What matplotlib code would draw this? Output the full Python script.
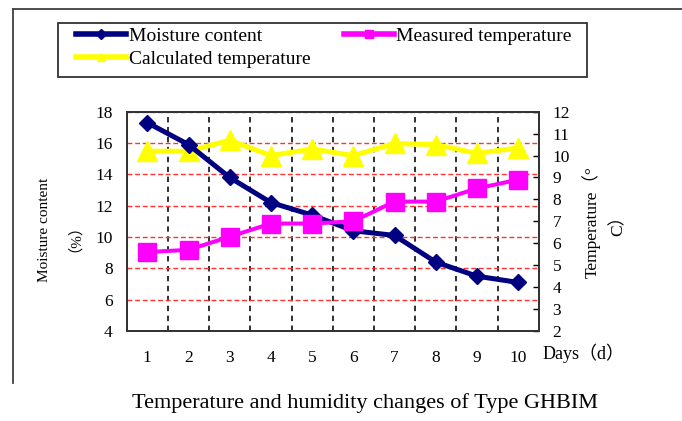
import numpy as np
import matplotlib
matplotlib.use("Agg")
import matplotlib.pyplot as plt
from matplotlib.lines import Line2D
from matplotlib.patches import Rectangle

# ---- data ----
days = np.arange(1, 11)
moisture = [17.3, 15.9, 13.8, 12.2, 11.4, 10.4, 10.1, 8.4, 7.5, 7.1]
measured_temp = [5.6, 5.7, 6.3, 6.9, 6.9, 7.0, 7.9, 7.9, 8.5, 8.9]
calc_temp = [10.2, 10.2, 10.7, 10.0, 10.3, 10.0, 10.55, 10.5, 10.1, 10.35]
left_ticks = np.arange(4, 19, 2)
right_ticks = np.arange(2, 13, 1)
labels = ["Moisture content", "Calculated temperature", "Measured temperature"]

plt.rcParams['font.family'] = ['Liberation Serif', 'Noto Sans CJK SC']

NAVY, MAG, YEL = '#000080', '#FF00FF', '#FFFF00'
EDGE = '#333333'

fig = plt.figure(figsize=(6.82, 4.21), dpi=100)
W, H = 682, 421
rect = [126.7 / W, 1 - 331 / H, (538.7 - 126.7) / W, (331 - 111.7) / H]

# base axes: left scale, grid, spines
ax = fig.add_axes(rect)
ax.set_xlim(0.5, 10.5); ax.set_ylim(4, 18)
ax.set_xticks(days)
ax.set_xticks(np.arange(1.5, 10, 1), minor=True)
ax.set_yticks(left_ticks)
ax.set_axisbelow(True)
ax.grid(axis='y', which='major', color='#FF3333', ls=(0, (3.5, 2)), lw=1)
ax.grid(axis='x', which='minor', color='#202020', ls=(0, (3, 2.5)), lw=1.3)
ax.tick_params(which='both', length=0)
ax.tick_params(axis='x', pad=14, labelsize=12.5)
ax.tick_params(axis='y', pad=10, labelsize=12.5)
for s in ax.spines.values():
    s.set_color(EDGE); s.set_linewidth(1.3)

# right scale: calculated temperature (drawn below moisture)
axy = ax.twinx()
axy.set_ylim(2, 12); axy.set_yticks(right_ticks)
axy.tick_params(axis='y', direction='in', length=4.5, width=1, pad=10, labelsize=12.5)
for s in axy.spines.values():
    s.set_color(EDGE); s.set_linewidth(1.3)
axy.plot(days, calc_temp, color=YEL, lw=3.6, marker='^', ms=14, clip_on=False)

# moisture content on left scale
axn = fig.add_axes(rect, sharex=ax)
axn.set_ylim(4, 18); axn.axis('off'); axn.patch.set_visible(False)
axn.plot(days, moisture, color=NAVY, lw=3.6, marker='D', ms=8.5, clip_on=False)

# measured temperature on right scale, on top
axm = fig.add_axes(rect, sharex=ax)
axm.set_ylim(2, 12); axm.axis('off'); axm.patch.set_visible(False)
axm.plot(days, measured_temp, color=MAG, lw=2.9, marker='s', ms=12.5, clip_on=False)

# legend (frame drawn separately)
handles = [Line2D([], [], color=NAVY, lw=4, marker='D', ms=5),
           Line2D([], [], color=YEL, lw=4, marker='^', ms=6),
           Line2D([], [], color=MAG, lw=4, marker='s', ms=6)]
fig.legend(handles, labels, ncol=2, loc='upper left', frameon=False,
           bbox_to_anchor=(76 / W, 1 - 27 / H), borderaxespad=0, borderpad=0,
           fontsize=14, handlelength=2.57, handletextpad=0.15,
           columnspacing=1.7, labelspacing=0.3)
fig.add_artist(Rectangle((58 / W, 1 - 77 / H), (587 - 58) / W, (77 - 23) / H,
                         transform=fig.transFigure, fill=False, ec=EDGE, lw=1.3))

# axis labels and title
fig.text(56 / W, 1 - 230 / H, 'Moisture content\n（%）', rotation=90, ha='center', va='center',
         fontsize=11, linespacing=1.8, multialignment='center')
fig.text(604 / W, 1 - 222 / H, 'Temperature（°\nC）', rotation=90, ha='center', va='center',
         fontsize=12.5, linespacing=1.7, multialignment='center')
fig.text(543 / W, 1 - 353 / H, 'Days（d）', ha='left', va='center', fontsize=13)
fig.text(365 / W, 1 - 403 / H, 'Temperature and humidity changes of Type GHBIM',
         ha='center', va='center', fontsize=16)

# outer frame (top and left edges)
fig.add_artist(Line2D([13 / W, 1], [1 - 9 / H] * 2, transform=fig.transFigure, color='#404040', lw=1.3))
fig.add_artist(Line2D([13 / W] * 2, [1 - 9 / H, 1 - 383 / H], transform=fig.transFigure, color='#404040', lw=1.3))

fig.savefig('out.png', dpi=100)
